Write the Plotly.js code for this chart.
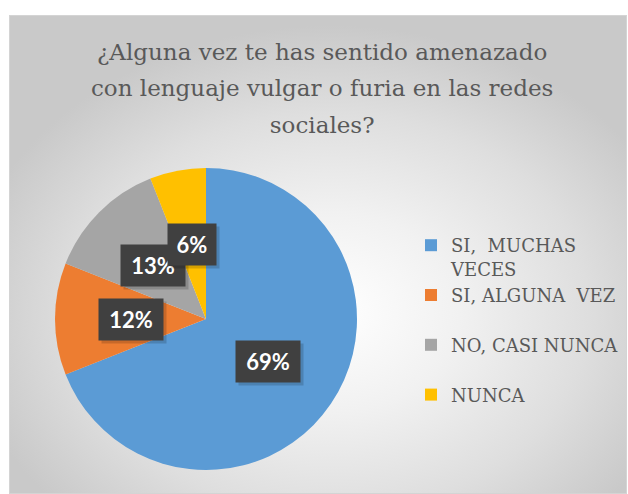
<!DOCTYPE html>
<html>
<head>
<meta charset="utf-8">
<script src="https://cdn.plot.ly/plotly-3.0.1.min.js"></script>
<style>
  html, body { margin:0; padding:0; background:#ffffff; }
  #wrap { position:relative; width:628px; height:494px; overflow:hidden; }
  #bg { position:absolute; left:9px; top:15px; width:618px; height:479px; box-sizing:border-box;
        border:1px solid #d4d4d4;
        background: radial-gradient(ellipse 60% 60% at 52% 62%, #ffffff 0%, #f1f1f1 35%, #dedede 70%, #c9c9c9 100%); }
  #chart { position:absolute; left:0; top:0; width:628px; height:494px; }
</style>
</head>
<body>
<div id="wrap">
  <div id="bg"></div>
  <div id="chart"></div>
</div>
<script>
// ---- data ----
const categories = ["SI,\u00a0 MUCHAS<br>VECES", "SI, ALGUNA\u00a0 VEZ<br> ", "NO, CASI NUNCA<br> ", "NUNCA<br> "];
const values = [69, 12, 13, 6];
const percentLabels = ["69%", "12%", "13%", "6%"];
const colors = ["#5B9BD5", "#ED7D31", "#A5A5A5", "#FFC000"];
const titleLines = ["¿Alguna vez te has sentido amenazado", "con lenguaje vulgar o furia en las redes", "sociales?"];

const SERIF = 'DejaVu Serif';
const SANS = 'Lato';

// ---- layout geometry ----
const W = 628, H = 494;
const cx = 206, cy = 319, R = 151;
const domX = [(cx - R) / W, (cx + R) / W];
const domY = [(H - (cy + R)) / H, (H - (cy - R)) / H];

// data-driven label positions (mid-angle of each slice, half radius)
const total = values.reduce((a, b) => a + b, 0);
let cum = 0;
const annotations = [];
const xc = (domX[0] + domX[1]) / 2, yc = (domY[0] + domY[1]) / 2;
values.forEach((v, i) => {
  const mid = (cum + v / 2) / total * 2 * Math.PI;
  cum += v;
  const x = xc + 0.5 * (R / W) * Math.sin(mid);
  const y = yc + 0.5 * (R / H) * Math.cos(mid);
  const w = percentLabels[i].length > 2 ? 52 : 36;
  annotations.push({
    x: x, y: y, xref: 'paper', yref: 'paper', xanchor: 'center', yanchor: 'middle', showarrow: false,
    text: '\u00a0', xshift: 3, yshift: -3,
    font: {family: SANS, size: 22, color: 'rgba(0,0,0,0)'},
    bgcolor: 'rgba(0,0,0,0.16)', borderpad: 6, width: w, height: 29
  });
  annotations.push({
    x: x, y: y, xref: 'paper', yref: 'paper', xanchor: 'center', yanchor: 'middle', showarrow: false,
    text: percentLabels[i],
    font: {family: SANS, size: 22, color: '#ffffff', weight: 'bold'},
    bgcolor: '#404040', borderpad: 6, width: w, height: 29
  });
});

const trace = {
  type: 'pie',
  labels: categories,
  values: values,
  sort: false,
  direction: 'clockwise',
  rotation: 0,
  marker: {colors: colors, line: {width: 0}},
  textinfo: 'none',
  hoverinfo: 'label+percent',
  domain: {x: domX, y: domY}
};

const layout = {
  width: W, height: H,
  margin: {l: 0, r: 0, t: 0, b: 0},
  paper_bgcolor: 'rgba(0,0,0,0)',
  plot_bgcolor: 'rgba(0,0,0,0)',
  title: {
    text: titleLines.map(s => '<span style="font-size:23px">' + s + '</span>').join('<br>'),
    font: {family: SERIF, size: 28, color: '#595959'},
    x: 0.513, xanchor: 'center', xref: 'paper',
    y: 1 - 60 / H, yanchor: 'top', yref: 'container'
  },
  showlegend: true,
  legend: {
    x: 411 / W, xanchor: 'left', y: 1 - 227 / H, yanchor: 'top',
    font: {family: SERIF, size: 18, color: '#595959'},
    bgcolor: 'rgba(0,0,0,0)', valign: 'top', tracegroupgap: 0
  },
  annotations: annotations
};

Plotly.newPlot('chart', [trace], layout, {displayModeBar: false, staticPlot: true});
</script>
</body>
</html>
